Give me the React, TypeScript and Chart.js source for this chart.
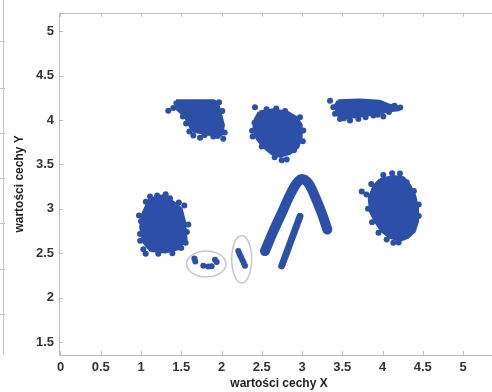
import { useEffect, useRef } from 'react';
import { Chart, registerables } from 'chart.js';

Chart.register(...registerables);

const BLUE = 'rgb(44,79,168)';
const FONT = "'Liberation Sans', Arial, sans-serif";

const xTicks = [0, 0.5, 1, 1.5, 2, 2.5, 3, 3.5, 4, 4.5, 5];
const yTicks = [1.5, 2, 2.5, 3, 3.5, 4, 4.5, 5];

type P = [number, number];

const cluster1Outline: P[] = [
  [1.11, 3.11], [1.29, 3.15], [1.42, 3.06], [1.5, 3.0], [1.54, 2.86], [1.56, 2.66],
  [1.46, 2.55], [1.3, 2.515], [1.12, 2.53], [1.035, 2.62], [0.995, 2.79], [1.015, 2.93], [1.07, 3.04],
];
const cluster1Dots: P[] = [
  [1.112, 3.138], [1.307, 3.164], [1.538, 3.038], [0.975, 2.926], [0.988, 2.718], [1.029, 2.544],
  [1.058, 2.495], [1.555, 2.618], [1.215, 2.495], [1.588, 2.823], [1.36, 3.12], [1.2, 3.15],
  [1.47, 3.07], [1.57, 2.74], [1.5, 2.56], [1.39, 2.5], [1.0, 2.86], [1.06, 3.08], [0.99, 2.64],
];

const cluster2Outline: P[] = [
  [1.435, 4.215], [1.91, 4.215], [1.955, 4.18], [1.99, 4.06], [2.025, 3.94], [2.005, 3.855],
  [1.9, 3.835], [1.816, 3.84], [1.733, 3.86], [1.65, 3.875], [1.605, 3.935], [1.565, 4.01],
  [1.5, 4.08], [1.44, 4.13], [1.42, 4.19],
];
const cluster2Dots: P[] = [
  [1.339, 4.105], [1.401, 4.134], [1.733, 3.8], [1.898, 3.815], [2.022, 3.788], [1.981, 3.844],
  [1.65, 3.826], [1.6, 3.87], [1.79, 3.83], [1.95, 3.82], [2.04, 3.86], [1.56, 3.96],
  [1.52, 4.04], [1.97, 4.2], [2.01, 4.1],
];

const cluster3Outline: P[] = [
  [2.47, 4.09], [2.644, 4.115], [2.82, 4.085], [2.935, 4.025], [2.99, 3.945], [2.99, 3.81],
  [2.95, 3.695], [2.85, 3.625], [2.727, 3.59], [2.62, 3.625], [2.52, 3.7], [2.44, 3.79],
  [2.4, 3.9], [2.42, 4.01],
];
const cluster3Dots: P[] = [
  [2.416, 4.142], [2.748, 3.547], [2.81, 3.554], [2.387, 3.815], [3.016, 3.882], [2.975, 4.03],
  [2.56, 4.12], [2.9, 3.66], [2.41, 3.97], [2.68, 4.13], [2.79, 4.1], [3.01, 3.76],
  [2.5, 3.7], [2.66, 3.58], [2.38, 3.88],
];

const cluster4Outline: P[] = [
  [3.45, 4.215], [3.72, 4.225], [3.97, 4.21], [4.09, 4.165], [4.2, 4.15], [4.2, 4.115],
  [4.06, 4.1], [3.99, 4.08], [3.85, 4.06], [3.68, 4.04], [3.555, 4.025], [3.455, 4.045],
  [3.43, 4.1], [3.42, 4.17],
];
const cluster4Dots: P[] = [
  [3.348, 4.216], [3.389, 4.142], [3.596, 3.993], [3.7, 4.011], [3.472, 4.011], [4.01, 4.038],
  [3.886, 4.049], [4.22, 4.14], [4.15, 4.16], [3.52, 4.02], [3.79, 4.03], [3.94, 4.06],
  [4.08, 4.09], [3.41, 4.07],
];

const cluster5Outline: P[] = [
  [3.97, 3.33], [4.134, 3.365], [4.26, 3.35], [4.34, 3.26], [4.4, 3.15], [4.435, 3.008],
  [4.435, 2.86], [4.395, 2.745], [4.315, 2.68], [4.217, 2.645], [4.095, 2.68], [3.99, 2.75],
  [3.91, 2.86], [3.85, 2.97], [3.835, 3.12], [3.89, 3.25],
];
const cluster5Dots: P[] = [
  [3.742, 3.194], [4.01, 3.38], [4.217, 3.398], [4.363, 2.767], [4.404, 2.86], [4.134, 2.618],
  [4.052, 2.656], [4.45, 3.05], [4.3, 3.3], [3.82, 3.0], [3.87, 2.85], [4.45, 2.92],
  [3.8, 3.16], [4.12, 3.4], [4.39, 3.2], [4.2, 2.62], [3.95, 2.73], [3.86, 3.28],
];

const archLine: P[] = [
  [2.54, 2.525], [2.644, 2.748], [2.748, 2.952], [2.851, 3.157], [2.934, 3.287], [2.996, 3.336],
  [3.079, 3.287], [3.161, 3.138], [3.245, 2.952], [3.315, 2.767],
];
const barLine: P[] = [[2.975, 2.915], [2.748, 2.358]];

const groupA: P[] = [
  [1.663, 2.44], [1.675, 2.406], [1.774, 2.358], [1.836, 2.35], [1.878, 2.354], [1.919, 2.428], [1.94, 2.402],
];
const groupB: P[] = [
  [2.209, 2.525], [2.222, 2.495], [2.236, 2.47], [2.248, 2.447], [2.262, 2.418], [2.276, 2.39], [2.292, 2.358],
];

const ellipseCx = [1.811, 2.251];
const ellipseCy = [2.38, 2.433];
const ellipseRx = [0.245, 0.124];
const ellipseRy = [0.145, 0.268];

const toXY = (arr: P[]) => arr.map(([x, y]) => ({ x, y }));
const closed = (arr: P[]) => toXY([...arr, arr[0]]);

const polygon = (arr: P[]) => ({
  data: closed(arr),
  showLine: true,
  fill: 'shape',
  backgroundColor: BLUE,
  borderColor: BLUE,
  borderWidth: 3,
  borderJoinStyle: 'round',
  pointRadius: 0,
  tension: 0,
});
const dots = (arr: P[]) => ({
  data: toXY(arr),
  showLine: false,
  pointRadius: 3,
  pointBackgroundColor: BLUE,
  pointBorderWidth: 0,
  backgroundColor: BLUE,
  borderColor: BLUE,
});
const stroke = (arr: P[], w: number, t: number) => ({
  data: toXY(arr),
  showLine: true,
  fill: false,
  borderColor: BLUE,
  borderWidth: w,
  borderCapStyle: 'round',
  borderJoinStyle: 'round',
  pointRadius: 0,
  tension: t,
});

const frame = {
  id: 'frame',
  beforeDatasetsDraw(chart: any) {
    const { ctx, chartArea, scales } = chart;
    const { left, right, top, bottom } = chartArea;
    ctx.save();
    ctx.strokeStyle = '#bdbdbd';
    ctx.lineWidth = 1;
    ctx.strokeRect(Math.round(left) + 0.5, Math.round(top) + 0.5, Math.round(right - left), Math.round(bottom - top));
    ctx.beginPath();
    xTicks.forEach((v) => {
      const px = Math.round(scales.x.getPixelForValue(v)) + 0.5;
      ctx.moveTo(px, bottom);
      ctx.lineTo(px, bottom - 4);
      ctx.moveTo(px, top);
      ctx.lineTo(px, top + 4);
    });
    yTicks.forEach((v) => {
      const py = Math.round(scales.y.getPixelForValue(v)) + 0.5;
      ctx.moveTo(left, py);
      ctx.lineTo(left + 4, py);
      ctx.moveTo(right, py);
      ctx.lineTo(right - 4, py);
    });
    ctx.stroke();
    // edge of the neighbouring figure on the left
    ctx.strokeStyle = '#c4c4c4';
    ctx.beginPath();
    ctx.moveTo(3.5, 0);
    ctx.lineTo(3.5, bottom - 1);
    [41, 88, 133, 178, 223, 269, 314].forEach((py) => {
      ctx.moveTo(0, py + 0.5);
      ctx.lineTo(5, py + 0.5);
    });
    ctx.stroke();
    ctx.restore();
  },
  afterDatasetsDraw(chart: any) {
    const { ctx, scales } = chart;
    ctx.save();
    ctx.strokeStyle = '#c8c8c8';
    ctx.lineWidth = 1.5;
    ellipseCx.forEach((cx, i) => {
      const px = scales.x.getPixelForValue(cx);
      const py = scales.y.getPixelForValue(ellipseCy[i]);
      const rx = Math.abs(scales.x.getPixelForValue(cx + ellipseRx[i]) - px);
      const ry = Math.abs(scales.y.getPixelForValue(ellipseCy[i] + ellipseRy[i]) - py);
      ctx.beginPath();
      ctx.ellipse(px, py, rx, ry, 0, 0, Math.PI * 2);
      ctx.stroke();
    });
    ctx.restore();
  },
};

export default function App() {
  const ref = useRef<HTMLCanvasElement>(null);
  useEffect(() => {
    const chart = new Chart(ref.current as HTMLCanvasElement, {
      type: 'scatter',
      data: {
        datasets: [
          polygon(cluster1Outline), dots(cluster1Dots),
          polygon(cluster2Outline), dots(cluster2Dots),
          polygon(cluster3Outline), dots(cluster3Dots),
          polygon(cluster4Outline), dots(cluster4Dots),
          polygon(cluster5Outline), dots(cluster5Dots),
          stroke(archLine, 10, 0.35),
          stroke(barLine, 7, 0),
          dots(groupA),
          dots(groupB),
        ] as any,
      },
      options: {
        animation: false,
        responsive: true,
        maintainAspectRatio: false,
        events: [],
        layout: { padding: { left: 0, top: 9.5, right: 11, bottom: 0 } },
        plugins: { legend: { display: false }, tooltip: { enabled: false } },
        scales: {
          x: {
            type: 'linear',
            min: -0.0186,
            max: 5.447,
            afterBuildTicks: (s: any) => { s.ticks = xTicks.map((v) => ({ value: v })); },
            afterFit: (s: any) => { s.height = 37; },
            grid: { display: false, drawTicks: false },
            border: { display: false },
            ticks: {
              autoSkip: false, maxRotation: 0, padding: 5, color: '#333',
              font: { size: 13, family: FONT, weight: 'bold' },
              callback: (v: any) => String(v),
            },
            title: {
              display: true, text: 'wartości cechy X', color: '#222',
              font: { size: 12, family: FONT, weight: 'bold' }, padding: { top: 0, bottom: 1 },
            },
          },
          y: {
            type: 'linear',
            min: 1.355,
            max: 5.206,
            afterBuildTicks: (s: any) => { s.ticks = yTicks.map((v) => ({ value: v })); },
            afterFit: (s: any) => { s.width = 59; },
            grid: { display: false, drawTicks: false },
            border: { display: false },
            ticks: {
              autoSkip: false, padding: 5, color: '#333',
              font: { size: 13, family: FONT, weight: 'bold' },
              callback: (v: any) => String(v),
            },
            title: {
              display: true, text: 'wartości cechy Y', color: '#222',
              font: { size: 12, family: FONT, weight: 'bold' }, padding: { top: 12.8, bottom: 0 },
            },
          },
        },
      },
      plugins: [frame],
    } as any);
    return () => chart.destroy();
  }, []);
  return (
    <div style={{ position: 'fixed', left: 0, top: 0, width: 492, height: 392, overflow: 'hidden', background: '#fff' }}>
      <div style={{ position: 'absolute', left: 0, top: 0, width: 510, height: 392 }}>
        <canvas ref={ref} />
      </div>
    </div>
  );
}
